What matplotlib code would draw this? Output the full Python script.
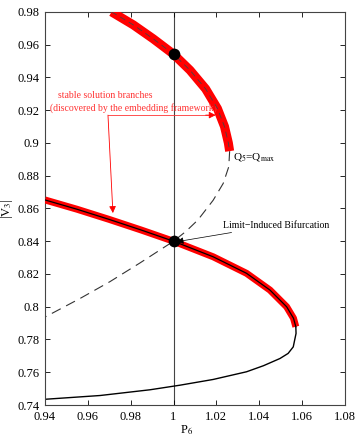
import numpy as np
import matplotlib
matplotlib.use('Agg')
import matplotlib.pyplot as plt

plt.rcParams['font.family'] = ['Liberation Serif', 'DejaVu Serif']
plt.rcParams['mathtext.fontset'] = 'stix'

# upper branch (stable part, red with dashed core)
p_up = [0.9711, 0.9812, 0.9905, 1.0000, 1.0077, 1.0150, 1.0205, 1.0238, 1.0256, 1.0262]
v_up = [0.9800, 0.9721, 0.9636, 0.9542, 0.9444, 0.9330, 0.9210, 0.9100, 0.9000, 0.8950]

# unstable continuation of the upper branch (dashed)
p_dash = [1.0262, 1.0258, 1.0232, 1.0185, 1.0114, 1.0058, 1.0000,
          0.9843, 0.9703, 0.9563, 0.9400]
v_dash = [0.8950, 0.8855, 0.8753, 0.8650, 0.8530, 0.8460, 0.8400,
          0.8267, 0.8153, 0.8050, 0.7937]

# lower stable branch (red with solid core)
p_low = [0.9400, 0.9550, 0.9700, 0.9850, 1.0000, 1.0185, 1.0341, 1.0450,
         1.0528, 1.0560, 1.0571]
v_low = [0.8652, 0.8595, 0.8533, 0.8468, 0.8400, 0.8305, 0.8204, 0.8102,
         0.8000, 0.7930, 0.7878]

# remaining solid part of the lower nose
p_nose = [1.0571, 1.0572, 1.0559, 1.0535, 1.0497, 1.0420, 1.0341, 1.0185,
          1.0030, 0.9890, 0.9657, 0.9400]
v_nose = [0.7878, 0.7837, 0.7755, 0.7715, 0.7684, 0.7640, 0.7603, 0.7556,
          0.7521, 0.7493, 0.7458, 0.7435]

# marked operating points
p_pts = [1.0, 1.0]
v_pts = [0.9542, 0.8400]

xticks = [0.94, 0.96, 0.98, 1.0, 1.02, 1.04, 1.06, 1.08]
xticklabels = ['0.94', '0.96', '0.98', '1', '1.02', '1.04', '1.06', '1.08']
yticks = [0.74, 0.76, 0.78, 0.80, 0.82, 0.84, 0.86, 0.88, 0.90, 0.92, 0.94, 0.96, 0.98]
yticklabels = ['0.74', '0.76', '0.78', '0.8', '0.82', '0.84', '0.86',
               '0.88', '0.9', '0.92', '0.94', '0.96', '0.98']

fig = plt.figure(figsize=(3.6, 4.41), dpi=100)
ax = fig.add_axes([0.125, 0.0816, 0.833, 0.8914])

ax.axvline(1.0, color='#444444', lw=0.8, zorder=1)

ax.plot(p_dash, v_dash, color='#333333', lw=0.8, ls=(0, (9, 5.5)), zorder=2)
ax.plot(p_nose, v_nose, color='black', lw=1.0, zorder=2)

ax.plot(p_up, v_up, color='red', lw=6.5, solid_capstyle='butt',
        solid_joinstyle='round', zorder=3)
ax.plot(p_up, v_up, color='#444444', lw=0.6, ls=(0, (7, 5)), zorder=4)
ax.plot(p_low, v_low, color='red', lw=5.0, solid_capstyle='butt',
        solid_joinstyle='round', zorder=3)
ax.plot(p_low, v_low, color='black', lw=0.9, zorder=4)

ax.scatter(p_pts, v_pts, s=55, color='black', zorder=5)

ax.set_xlim(0.94, 1.08)
ax.set_ylim(0.74, 0.98)
ax.set_xticks(xticks)
ax.set_xticklabels(xticklabels)
ax.set_yticks(yticks)
ax.set_yticklabels(yticklabels)
ax.tick_params(direction='in', top=True, right=True, labelsize=9,
               length=3.5, width=0.6)
ax.tick_params(axis='x', pad=4)
ax.tick_params(axis='y', pad=4)
for s in ax.spines.values():
    s.set_color('#444444')
    s.set_linewidth(0.8)

ax.set_xlabel(r'P$_6$', fontsize=9)
ax.set_ylabel(r'|V$_3$|', fontsize=9)
ax.xaxis.set_label_coords(0.473, -0.045)
ax.yaxis.set_label_coords(-0.10, 0.5)

# annotations
red_txt = '#ff3333'
ax.text(0.9461, 0.9287, 'stable solution branches', color=red_txt,
        fontsize=7, ha='left', va='center')
ax.text(0.9423, 0.9214, '(discovered by the embedding framework)', color=red_txt,
        fontsize=7, ha='left', va='center')
ax.plot([0.9694, 1.017], [0.9170, 0.9170], color=red_txt, lw=0.6)
ax.annotate('', xy=(1.0197, 0.9170), xytext=(1.015, 0.9170),
            arrowprops=dict(arrowstyle='-|>', color='red', lw=0.6,
                            mutation_scale=10, shrinkA=0, shrinkB=0))
ax.annotate('', xy=(0.9717, 0.8572), xytext=(0.9694, 0.9170),
            arrowprops=dict(arrowstyle='-|>', color='red', lw=0.6,
                            mutation_scale=10, shrinkA=0, shrinkB=0))

ax.text(1.0276, 0.8916, r'Q$_5$=Q$_{\mathrm{max}}$', fontsize=8,
        ha='left', va='center')

ax.annotate('Limit\u2212Induced Bifurcation', xy=(1.0015, 0.8397),
            xytext=(1.0232, 0.8499), fontsize=7, ha='left', va='center',
            arrowprops=dict(arrowstyle='-|>', color='black', lw=0.5,
                            mutation_scale=10, shrinkA=1, shrinkB=0))

fig.savefig('out.png', dpi=100)
